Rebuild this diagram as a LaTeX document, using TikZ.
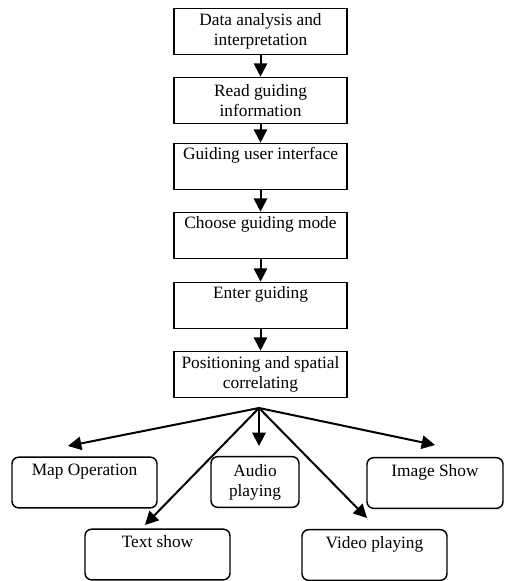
\documentclass[tikz,border=0pt]{standalone}
\usepackage{fontspec}
\setmainfont{Liberation Serif}
\usetikzlibrary{arrows.meta}
\begin{document}
\begin{tikzpicture}[x=0.75pt,y=-0.75pt,
  box/.style={draw, line width=1.2pt, inner sep=0pt, align=center,
    minimum width=129.75pt, minimum height=34.5pt,
    font=\fontsize{13}{15}\selectfont},
  rbox/.style={draw, line width=1.1pt, inner sep=0pt, align=center,
    rounded corners=5pt, minimum height=38pt,
    font=\fontsize{13}{15}\selectfont},
  arr/.style={line width=1.5pt, -{Triangle[length=10pt,width=10pt]}}]
\useasboundingbox (0,0) rectangle (504,581);
\node[box] (b1) at (260.5,31.5) {Data analysis and\\interpretation};
\node[box] (b2) at (260.5,100.5) {Read guiding\\information};
\node[box] (b3) at (260.5,166.5) {Guiding user interface\\\strut};
\node[box] (b4) at (260.5,235.5) {Choose guiding mode\\\strut};
\node[box] (b5) at (260.5,305.5) {Enter guiding\\\strut};
\node[box] (b6) at (260.5,374.5) {Positioning and spatial\\correlating};
\foreach \a/\b in {b1/b2,b2/b3,b3/b4,b4/b5,b5/b6}
  \draw[arr] (\a) -- (\b);
\node[rbox, minimum width=108.75pt] (map) at (84.5,482.5) {Map Operation\\\strut};
\node[rbox, minimum width=108.75pt] (text) at (157.5,554.5) {Text show\\\strut};
\node[rbox, minimum width=66pt] (audio) at (255,482) {Audio\\playing};
\node[rbox, minimum width=102pt] (image) at (435,483) {Image Show\\\strut};
\node[rbox, minimum width=108.75pt] (video) at (374.5,555) {Video playing\\\strut};
\coordinate (fan) at (259,408);
\coordinate (tmap) at (68,446);
\coordinate (ttext) at (145,525);
\coordinate (taudio) at (259,446);
\coordinate (tvideo) at (367,518);
\coordinate (timage) at (435,445);
\foreach \t in {tmap,ttext,taudio,tvideo,timage}
  \draw[arr] (fan) -- (\t);
\end{tikzpicture}
\end{document}
